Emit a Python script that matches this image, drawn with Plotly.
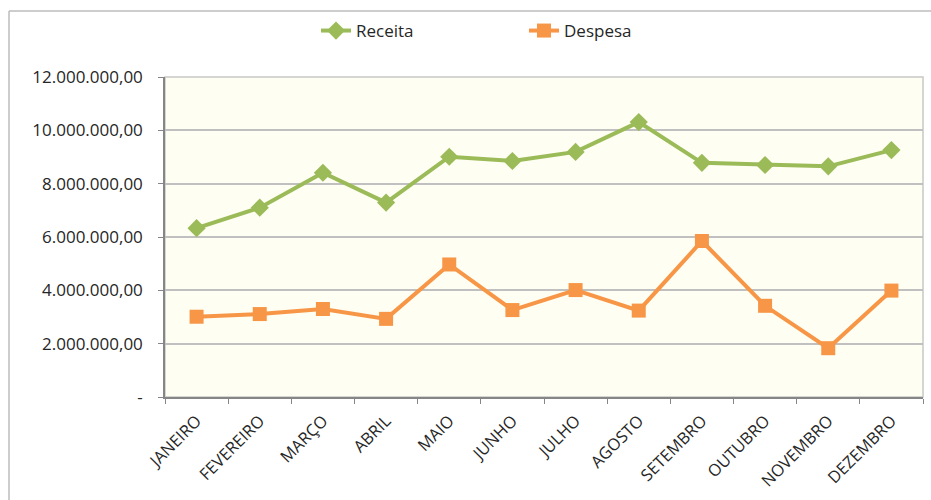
import plotly.graph_objects as go

meses = ["JANEIRO", "FEVEREIRO", "MARÇO", "ABRIL", "MAIO", "JUNHO",
         "JULHO", "AGOSTO", "SETEMBRO", "OUTUBRO", "NOVEMBRO", "DEZEMBRO"]
receita = [6330000, 7100000, 8410000, 7290000, 9010000, 8850000,
           9190000, 10310000, 8780000, 8700000, 8650000, 9260000]
despesa = [3010000, 3110000, 3300000, 2930000, 4970000, 3260000,
           4010000, 3240000, 5850000, 3420000, 1830000, 3990000]
y_tickvals = [0, 2000000, 4000000, 6000000, 8000000, 10000000, 12000000]
y_ticktext = ["-", "2.000.000,00", "4.000.000,00", "6.000.000,00",
              "8.000.000,00", "10.000.000,00", "12.000.000,00"]

FONT = "'Open Sans', Lato, sans-serif"

fig = go.Figure()
fig.add_trace(go.Scatter(
    x=meses, y=receita, name="Receita", mode="lines+markers",
    line=dict(color="#9BBB59", width=4),
    marker=dict(symbol="diamond", size=14, color="#9BBB59"),
))
fig.add_trace(go.Scatter(
    x=meses, y=despesa, name="Despesa", mode="lines+markers",
    line=dict(color="#F79646", width=4),
    marker=dict(symbol="square", size=14, color="#F79646"),
))

W, H = 931, 500
L, R, T, B = 165, 8, 77, 103
pw, ph = W - L - R, H - T - B

def px_x(x):
    return (x - L) / pw

def px_y(y):
    return (H - B - y) / ph

fig.update_layout(
    width=W, height=H,
    margin=dict(l=L, r=R, t=T, b=B, autoexpand=False),
    paper_bgcolor="white",
    plot_bgcolor="#FEFEF2",
    font=dict(family=FONT, size=17, color="#262626"),
    showlegend=True,
    legend=dict(
        orientation="h", x=px_x(316), y=px_y(31), xanchor="left", yanchor="middle",
        entrywidth=163, entrywidthmode="pixels",
        font=dict(family=FONT, size=17, color="#262626"),
        bgcolor="rgba(0,0,0,0)",
    ),
    xaxis=dict(
        type="category", tickson="boundaries", ticks="outside", ticklen=5,
        tickcolor="#868686", showline=True, linecolor="#868686", linewidth=1.5,
        showgrid=False, tickangle=-45, tickfont=dict(size=16.5),
        range=[-0.5, 11.5], fixedrange=True, automargin=False,
        ticklabelstandoff=6,
    ),
    yaxis=dict(
        range=[0, 12000000], tickvals=y_tickvals, ticktext=y_ticktext,
        ticks="outside", ticklen=5, tickcolor="#868686",
        showline=True, linecolor="#868686", linewidth=1.5,
        showgrid=True, gridcolor="#C0C0C0", gridwidth=1.5,
        zeroline=False, ticklabelstandoff=12, automargin=False,
    ),
    shapes=[
        dict(type="line", xref="paper", yref="paper",
             x0=px_x(9), x1=px_x(9), y0=px_y(11), y1=px_y(H + 5),
             line=dict(color="#BDBDBD", width=1.5), layer="below"),
        dict(type="line", xref="paper", yref="paper",
             x0=px_x(9), x1=px_x(W + 5), y0=px_y(11), y1=px_y(11),
             line=dict(color="#BDBDBD", width=1.5), layer="below"),
        dict(type="rect", xref="paper", yref="paper",
             x0=0, x1=1, y0=0, y1=1,
             line=dict(color="#C8C8C8", width=1.5), fillcolor="rgba(0,0,0,0)",
             layer="below"),
    ],
)

fig.write_html(
    "out.html",
    config={"displayModeBar": False},
    post_script=("document.body.style.margin='0';"
                 "document.documentElement.style.overflow='hidden';"),
)
